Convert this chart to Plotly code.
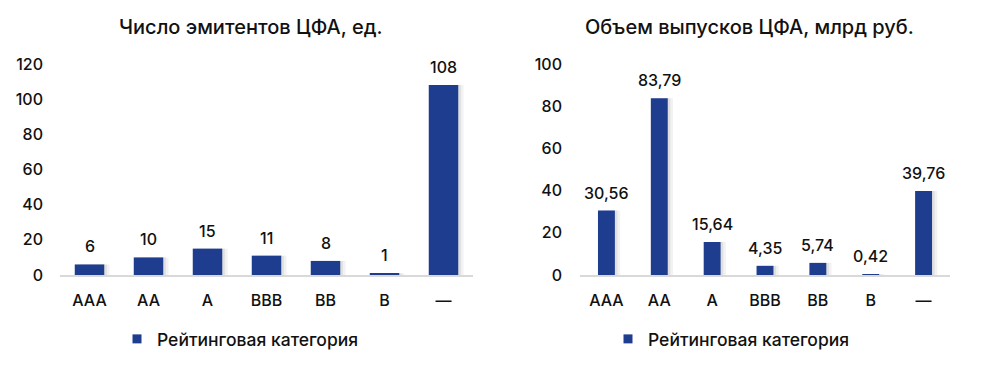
import plotly.graph_objects as go

categories = ["AAA", "AA", "A", "BBB", "BB", "B", "—"]
issuers = [6, 10, 15, 11, 8, 1, 108]
volume = [30.56, 83.79, 15.64, 4.35, 5.74, 0.42, 39.76]
title_left = "Число эмитентов ЦФА, ед."
title_right = "Объем выпусков ЦФА, млрд руб."
series_name = "Рейтинговая категория"
ticks_left = [0, 20, 40, 60, 80, 100, 120]
ticks_right = [0, 20, 40, 60, 80, 100]

BAR = "#1f3d8f"
FONT = "Inter"
TXT = "#111111"
OFF = 8  # page body margin
W, H = 995 - OFF, 365 - OFF

def px_x(a, b):
    return [(a - OFF) / W, (b - OFF) / W]

def px_y(top, bottom):
    return [(H - (bottom - OFF)) / H, (H - (top - OFF)) / H]

def fx(a):
    return (a - OFF) / W

def fy(a):
    return (H - (a - OFF)) / H

fig = go.Figure()

def add_panel(xa, ya, values, width, shadow_shift, legend, labels):
    for k, alpha in [(2, 0.05), (1, 0.07)]:
        fig.add_trace(go.Bar(
            x=categories, y=values, xaxis=xa, yaxis=ya,
            width=width, offset=-width / 2 + shadow_shift * k,
            marker=dict(color=f"rgba(0,0,0,{alpha})", line=dict(width=0)),
            showlegend=False, hoverinfo="skip"))
    fig.add_trace(go.Bar(
        x=categories, y=values, xaxis=xa, yaxis=ya,
        width=width, offset=-width / 2,
        marker=dict(color=BAR, line=dict(width=0)),
        showlegend=False))
    fig.add_trace(go.Scatter(
        x=[None], y=[None], xaxis=xa, yaxis=ya, mode="markers",
        marker=dict(symbol="square", size=9, color=BAR),
        name=series_name, legend=legend, showlegend=True))
    for c, v, t in zip(categories, values, labels):
        fig.add_annotation(x=c, y=v, xref=xa, yref=ya, text=t,
                           showarrow=False, yanchor="bottom", yshift=6,
                           font=dict(family=FONT, size=16, color=TXT, weight=500))

add_panel("x", "y", issuers, 0.5, 0.045, "legend", [str(v) for v in issuers])
add_panel("x2", "y2", volume, 0.32, 0.05, "legend2",
          [f"{v:.2f}".replace(".", ",") for v in volume])

axis_common = dict(showgrid=False, zeroline=False)
tf = dict(family=FONT, size=16, color=TXT, weight=500)
fig.update_layout(
    width=W, height=H,
    margin=dict(l=0, r=0, t=0, b=0, autoexpand=False),
    paper_bgcolor="white", plot_bgcolor="white",
    barmode="overlay",
    font=dict(family=FONT, size=16, color=TXT),
    xaxis=dict(domain=px_x(60, 473), anchor="y", type="category",
               range=[-0.5, 6.5], showline=True, linecolor="#d9d9d9",
               linewidth=1.5, ticks="", ticklabelstandoff=10,
               tickfont=tf, automargin=False, **axis_common),
    yaxis=dict(domain=px_y(64, 275), anchor="x", range=[0, 120],
               tickvals=ticks_left, showline=False, ticklabelstandoff=16,
               tickfont=tf, automargin=False, **axis_common),
    xaxis2=dict(domain=px_x(580, 950), anchor="y2", type="category",
                range=[-0.5, 6.5], showline=True, linecolor="#d9d9d9",
                linewidth=1.5, ticks="", ticklabelstandoff=10,
                tickfont=tf, automargin=False, **axis_common),
    yaxis2=dict(domain=px_y(64, 275), anchor="x2", range=[0, 100],
                tickvals=ticks_right, showline=False, ticklabelstandoff=17,
                tickfont=tf, automargin=False, **axis_common),
    legend=dict(x=fx(117), y=fy(339), xanchor="left", yanchor="middle",
                orientation="h", font=dict(size=17.5, weight=500), itemwidth=30,
                bgcolor="rgba(0,0,0,0)"),
    legend2=dict(x=fx(608), y=fy(339), xanchor="left", yanchor="middle",
                 orientation="h", font=dict(size=17.5, weight=500), itemwidth=30,
                 bgcolor="rgba(0,0,0,0)"),
    showlegend=True,
)

fig.add_annotation(x=fx(251), y=fy(27), xref="paper", yref="paper",
                   text=title_left, showarrow=False, xanchor="center",
                   yanchor="middle", font=dict(family=FONT, size=20, color=TXT, weight=500))
fig.add_annotation(x=fx(749), y=fy(27), xref="paper", yref="paper",
                   text=title_right, showarrow=False, xanchor="center",
                   yanchor="middle", font=dict(family=FONT, size=20, color=TXT, weight=500))

fig.write_html("out.html")
